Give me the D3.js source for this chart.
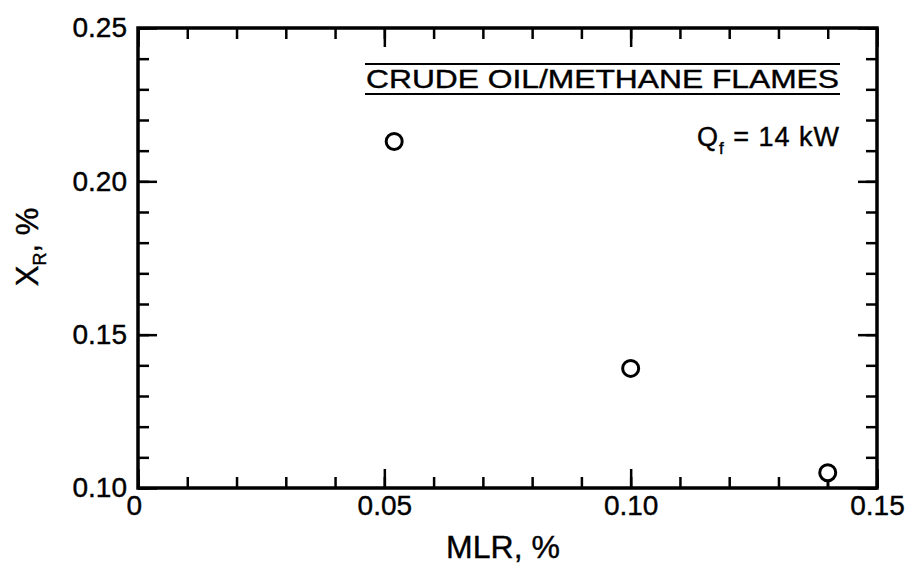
<!DOCTYPE html>
<html>
<head>
<meta charset="utf-8">
<script src="https://cdn.jsdelivr.net/npm/d3@7"></script>
<style>
  body { margin: 0; background: #fff; }
  svg { display: block; font-family: "Liberation Sans", Arial, Helvetica, sans-serif; }
  svg text { stroke: #000; stroke-width: 0.4px; }
</style>
</head>
<body>
<div id="chart"></div>
<script>
// data
const mlr = [0.052, 0.100, 0.140];
const xr = [0.213, 0.139, 0.105];
const xrLow = [null, null, 0.100]; // the last point has an error stem down to the axis

const xMajor = [0, 0.05, 0.10, 0.15];
const yMajor = [0.10, 0.15, 0.20, 0.25];
const xMinor = d3.range(0, 16).map(i => i / 100);
const yMinor = d3.range(10, 26).map(i => i / 100);

const width = 910, height = 571;
const margin = { top: 28, right: 33, bottom: 83, left: 138 };
const w = width - margin.left - margin.right;
const h = height - margin.top - margin.bottom;

const svg = d3.select("#chart").append("svg")
    .attr("width", width)
    .attr("height", height);

const g = svg.append("g").attr("transform", `translate(${margin.left},${margin.top})`);

const x = d3.scaleLinear().domain([0, 0.15]).range([0, w]);
const y = d3.scaleLinear().domain([0.10, 0.25]).range([h, 0]);

const minorLen = 11, majorLen = 19;
const fmt = d => d === 0 ? "0" : d3.format(".2f")(d);

function styleAxis(sel) {
    sel.select(".domain").remove();
    sel.selectAll("line").attr("stroke", "#000").attr("stroke-width", 2.5);
    sel.selectAll("text").attr("fill", "#000").style("font-size", "28px");
}

// bottom
g.append("g").attr("transform", `translate(0,${h})`)
    .call(d3.axisBottom(x).tickValues(xMinor).tickSize(-minorLen).tickFormat(""))
    .call(styleAxis);
const bottomMajor = g.append("g").attr("transform", `translate(0,${h})`)
    .call(d3.axisBottom(x).tickValues(xMajor).tickSize(-majorLen).tickPadding(7).tickFormat(fmt))
    .call(styleAxis);
bottomMajor.selectAll("text").attr("dy", "0.72em");
bottomMajor.selectAll("text").filter(d => d === 0).attr("dx", "-0.15em");

// top
g.append("g")
    .call(d3.axisTop(x).tickValues(xMinor).tickSize(-minorLen).tickFormat(""))
    .call(styleAxis);
g.append("g")
    .call(d3.axisTop(x).tickValues(xMajor).tickSize(-majorLen).tickFormat(""))
    .call(styleAxis);

// left
g.append("g")
    .call(d3.axisLeft(y).tickValues(yMinor).tickSize(-minorLen).tickFormat(""))
    .call(styleAxis);
g.append("g")
    .call(d3.axisLeft(y).tickValues(yMajor).tickSize(-majorLen).tickPadding(11).tickFormat(fmt))
    .call(styleAxis);

// right
g.append("g").attr("transform", `translate(${w},0)`)
    .call(d3.axisRight(y).tickValues(yMinor).tickSize(-minorLen).tickFormat(""))
    .call(styleAxis);
g.append("g").attr("transform", `translate(${w},0)`)
    .call(d3.axisRight(y).tickValues(yMajor).tickSize(-majorLen).tickFormat(""))
    .call(styleAxis);

// frame
g.append("rect")
    .attr("width", w)
    .attr("height", h)
    .attr("fill", "none")
    .attr("stroke", "#000")
    .attr("stroke-width", 3.5);

// error stems
g.selectAll(".stem")
    .data(mlr.map((m, i) => ({ m, v: xr[i], lo: xrLow[i] })).filter(d => d.lo !== null))
    .join("line")
    .attr("class", "stem")
    .attr("x1", d => x(d.m))
    .attr("x2", d => x(d.m))
    .attr("y1", d => y(d.v))
    .attr("y2", d => y(d.lo))
    .attr("stroke", "#000")
    .attr("stroke-width", 2.5);

// points
g.selectAll(".pt")
    .data(mlr.map((m, i) => ({ m, v: xr[i] })))
    .join("circle")
    .attr("class", "pt")
    .attr("cx", d => x(d.m))
    .attr("cy", d => y(d.v))
    .attr("r", 8)
    .attr("fill", "#fff")
    .attr("stroke", "#000")
    .attr("stroke-width", 3);

// legend block
const legRight = 840 - margin.left;
const legLeft = 365 - margin.left;
g.append("line")
    .attr("x1", legLeft).attr("x2", legRight)
    .attr("y1", 64 - margin.top).attr("y2", 64 - margin.top)
    .attr("stroke", "#000").attr("stroke-width", 2);
g.append("line")
    .attr("x1", legLeft).attr("x2", legRight)
    .attr("y1", 94 - margin.top).attr("y2", 94 - margin.top)
    .attr("stroke", "#000").attr("stroke-width", 2);
g.append("text")
    .attr("x", legLeft + 1)
    .attr("y", 88 - margin.top)
    .attr("textLength", legRight - legLeft - 2)
    .attr("lengthAdjust", "spacingAndGlyphs")
    .style("font-size", "26px")
    .text("CRUDE OIL/METHANE FLAMES");
const q = g.append("text")
    .attr("x", legRight)
    .attr("y", 146 - margin.top)
    .attr("text-anchor", "end")
    .style("font-size", "27px")
    .style("letter-spacing", "1px");
q.append("tspan").text("Q");
q.append("tspan").attr("dy", 8).style("font-size", "17px").text("f");
q.append("tspan").attr("dy", -8).text(" = 14 kW");

// axis titles
svg.append("text")
    .attr("x", 503)
    .attr("y", 558)
    .attr("text-anchor", "middle")
    .style("font-size", "32px")
    .text("MLR, %");

const yt = svg.append("text")
    .attr("transform", "translate(38,247) rotate(-90)")
    .attr("text-anchor", "middle")
    .style("font-size", "31px");
yt.append("tspan").text("X");
yt.append("tspan").attr("dy", 8).style("font-size", "18px").text("R");
yt.append("tspan").attr("dy", -8).text(", %");
</script>
</body>
</html>
